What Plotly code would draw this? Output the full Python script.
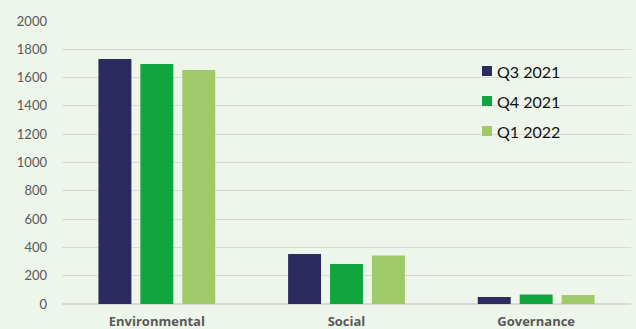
import plotly.graph_objects as go

categories = ["Environmental", "Social", "Governance"]
series_names = ["Q3 2021", "Q4 2021", "Q1 2022"]
q3_2021 = [1731, 353, 49]
q4_2021 = [1696, 283, 67]
q1_2022 = [1654, 343, 64]
colors = ["#2C2A5E", "#10A53D", "#A0C968"]
y_ticks = [0, 200, 400, 600, 800, 1000, 1200, 1400, 1600, 1800, 2000]

W, H = 636, 329
ML, MR, MT, MB = 62, 5, 21, 25
PW, PH = W - ML - MR, H - MT - MB
bg = "#EEF5EA"


def px_x(x):
    return (x - ML) / PW


def px_y(y):
    return (H - MB - y) / PH


fig = go.Figure()
for i, (name, vals) in enumerate(zip(series_names, [q3_2021, q4_2021, q1_2022])):
    fig.add_trace(go.Bar(
        x=categories, y=vals, name=name, showlegend=False,
        marker=dict(color=colors[i], line=dict(width=0)),
    ))

# Compact legend: a small colour square followed closely by the series name
leg_x0, leg_y0, step, sq = 482, 71, 30, 10
shapes, annotations = [], []
for i, name in enumerate(series_names):
    cy = leg_y0 + i * step
    shapes.append(dict(
        type="rect", xref="paper", yref="paper", layer="above",
        x0=px_x(leg_x0), x1=px_x(leg_x0 + sq),
        y0=px_y(cy + sq / 2), y1=px_y(cy - sq / 2),
        fillcolor=colors[i], line=dict(width=0),
    ))
    annotations.append(dict(
        text=name, xref="paper", yref="paper", showarrow=False,
        x=px_x(leg_x0 + sq + 3), y=px_y(cy), xanchor="left", yanchor="middle",
        font=dict(size=16, color="#111111", family="Lato, sans-serif"),
    ))

fig.update_layout(
    width=W, height=H,
    margin=dict(l=ML, r=MR, t=MT, b=MB),
    paper_bgcolor=bg, plot_bgcolor=bg,
    barmode="group", bargap=0.337, bargroupgap=0.214,
    font=dict(family="Lato, Open Sans, sans-serif", color="#595959"),
    showlegend=False,
    shapes=shapes, annotations=annotations,
    xaxis=dict(
        showgrid=False, showline=False, ticks="", automargin=False,
        tickfont=dict(size=13, color="#595959", family="Open Sans, sans-serif", weight="bold"),
        ticklabelstandoff=8,
    ),
    yaxis=dict(
        range=[0, 2000], tickvals=y_ticks, automargin=False,
        showgrid=True, gridcolor="#D9D9D9", gridwidth=1,
        zeroline=True, zerolinecolor="#D9D9D9", zerolinewidth=2,
        showline=False, ticks="",
        tickfont=dict(size=13, color="#595959"),
        ticklabelstandoff=14,
    ),
)

fig.write_html("out.html")
